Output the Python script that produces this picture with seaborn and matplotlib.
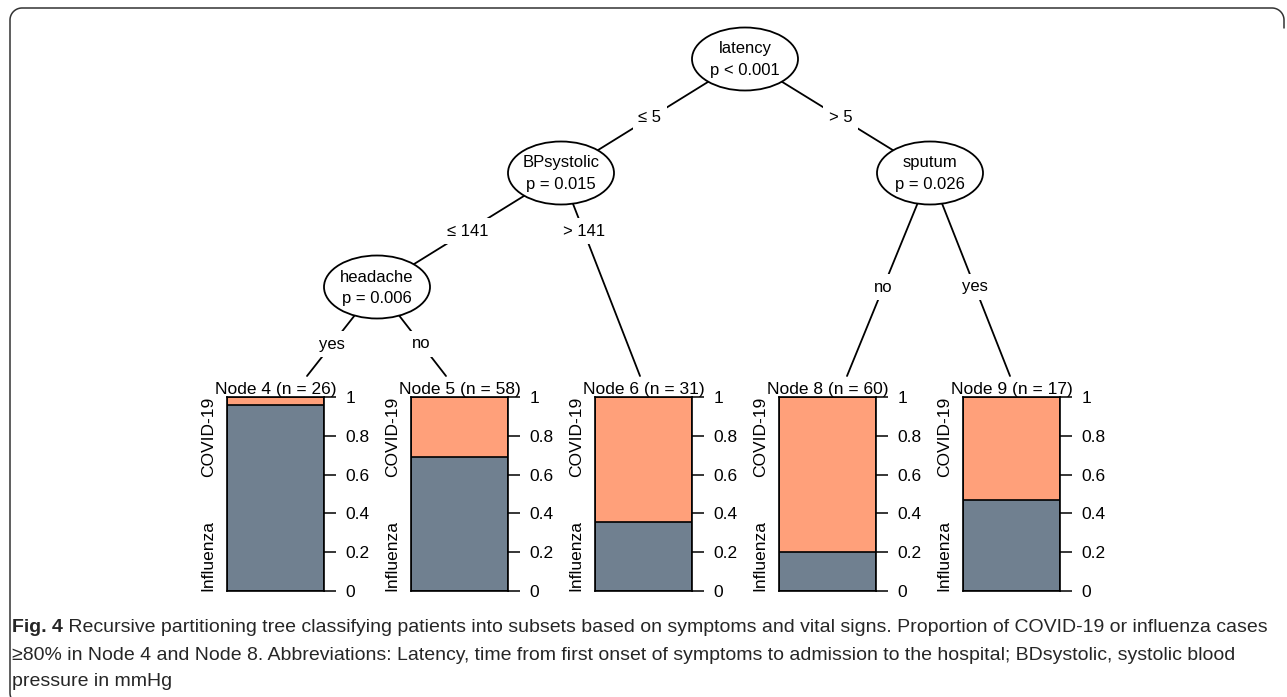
import numpy as np
import pandas as pd
import matplotlib
matplotlib.use("Agg")
import matplotlib.pyplot as plt
import seaborn as sns
from matplotlib import font_manager
from matplotlib.patches import Ellipse

# tree content
inner_nodes = ["latency", "BPsystolic", "headache", "sputum"]
inner_pvals = ["p < 0.001", "p = 0.015", "p = 0.006", "p = 0.026"]
edge_labels = ["\u2264 5", "> 5", "\u2264 141", "> 141", "yes", "no", "no", "yes"]

# terminal nodes
node_ids = [4, 5, 6, 8, 9]
node_n = [26, 58, 31, 60, 17]
influenza_share = [0.96, 0.69, 0.355, 0.20, 0.47]
class_names = ["Influenza", "COVID-19"]
tick_labels = ["0", "0.2", "0.4", "0.6", "0.8", "1"]

caption_bold = "Fig. 4"
caption_lines = [
    " Recursive partitioning tree classifying patients into subsets based on symptoms and vital signs. Proportion of COVID-19 or influenza cases",
    "\u226580% in Node 4 and Node 8. Abbreviations: Latency, time from first onset of symptoms to admission to the hospital; BDsystolic, systolic blood",
    "pressure in mmHg",
]

flu_col = "#708090"
covid_col = "#FFA07A"

sns.set_style("white")
plt.rcParams["font.family"] = ["Liberation Sans", "DejaVu Sans"]
for key in ["text.color", "axes.labelcolor", "xtick.color", "ytick.color"]:
    plt.rcParams[key] = "black"
installed = {f.name for f in font_manager.fontManager.ttflist}
narrow = "Liberation Sans Narrow" in installed
cap_font = "Liberation Sans Narrow" if narrow else "Liberation Sans"

W, H = 1287, 697
fig = plt.figure(figsize=(W / 100, H / 100), dpi=100)
bg = fig.add_axes([0, 0, 1, 1])
bg.set_xlim(0, W)
bg.set_ylim(H, 0)
bg.axis("off")


def px_axes(left, top, width, height):
    return fig.add_axes([left / W, 1 - (top + height) / H, width / W, height / H])


# layout (pixels)
inner_xy = {"latency": (745, 59), "BPsystolic": (561, 173),
            "headache": (377, 287), "sputum": (930, 173)}
term_anchor = {4: (307, 376), 5: (446, 376), 6: (640, 376), 8: (847, 376), 9: (1010, 376)}
edges = [("latency", "BPsystolic", 118), ("latency", "sputum", 118),
         ("BPsystolic", "headache", 231), ("BPsystolic", 6, 231),
         ("headache", 4, 344), ("headache", 5, 344),
         ("sputum", 8, 287), ("sputum", 9, 287)]

for (parent, child, ly), lab in zip(edges, edge_labels):
    x0, y0 = inner_xy[parent]
    x1, y1 = inner_xy[child] if isinstance(child, str) else term_anchor[child]
    bg.plot([x0, x1], [y0, y1], color="black", lw=1.3, zorder=1)
    lx = x0 + (x1 - x0) * (ly - y0) / (y1 - y0)
    bg.text(lx, ly, lab, ha="center", va="center", fontsize=12, zorder=3,
            bbox=dict(facecolor="white", edgecolor="none", pad=4))

for name, pv in zip(inner_nodes, inner_pvals):
    x, y = inner_xy[name]
    bg.add_patch(Ellipse((x, y), 106, 63, facecolor="white", edgecolor="black", lw=1.3, zorder=2))
    bg.text(x, y - 10, name, ha="center", va="center", fontsize=12, zorder=3)
    bg.text(x, y + 12, pv, ha="center", va="center", fontsize=12, zorder=3)

# bar panels
bar_left = [227, 411, 595, 779, 963]
for left, nid, n, flu in zip(bar_left, node_ids, node_n, influenza_share):
    ax = px_axes(left, 397, 97, 194)
    df = pd.DataFrame({"node": [nid], "Influenza": [flu], "COVID-19": [1 - flu]})
    df["total"] = df["Influenza"] + df["COVID-19"]
    sns.barplot(data=df, x="node", y="total", color=covid_col, saturation=1,
                width=1, edgecolor="black", linewidth=1.2, ax=ax)
    sns.barplot(data=df, x="node", y="Influenza", color=flu_col, saturation=1,
                width=1, edgecolor="black", linewidth=1.2, ax=ax)
    ax.set_xlim(-0.5, 0.5)
    ax.set_ylim(0, 1)
    ax.set_xticks([])
    ax.set_xlabel("")
    ax.set_ylabel("")
    ax.yaxis.tick_right()
    ax.set_yticks(np.linspace(0, 1, 6))
    ax.set_yticklabels(tick_labels)
    ax.tick_params(axis="y", right=True, left=False, length=8.5, width=1.1,
                   pad=7, labelsize=12.5, color="black")
    for sp in ax.spines.values():
        sp.set_color("black")
        sp.set_linewidth(1.2)
    ax.set_title(f"Node {nid} (n = {n})", fontsize=12.5, pad=2)
    ax.annotate(class_names[1], xy=(0, 1), xycoords="axes fraction", xytext=(-13.5, 0),
                textcoords="offset points", rotation=90, ha="center", va="top", fontsize=12.5)
    ax.annotate(class_names[0], xy=(0, 0), xycoords="axes fraction", xytext=(-13.5, 0),
                textcoords="offset points", rotation=90, ha="center", va="bottom", fontsize=12.5)

# caption
cap_y = [628, 655, 681]
cap_size = 14.5 if narrow else 14.0
cap_col = "#262626"
t = bg.text(12, cap_y[0], caption_bold, fontsize=cap_size, fontweight="bold",
            family=cap_font, color=cap_col, va="center", ha="left")
renderer = fig.canvas.get_renderer()
x_end = t.get_window_extent(renderer).x1
bg.text(x_end, cap_y[0], caption_lines[0], fontsize=cap_size, family=cap_font,
        color=cap_col, va="center", ha="left")
for y, line in zip(cap_y[1:], caption_lines[1:]):
    bg.text(12, y, line, fontsize=cap_size, family=cap_font, color=cap_col,
            va="center", ha="left")

# frame: open rounded border (top and left edges only)
r = 12
a1 = np.radians(np.linspace(180, 270, 20))
a2 = np.radians(np.linspace(270, 360, 20))
a3 = np.radians(np.linspace(180, 120, 10))
fx = np.concatenate([22 + r * np.cos(a3[::-1]), 22 + r * np.cos(a1), 1272 + r * np.cos(a2), [1284]])
fy = np.concatenate([693 + r * np.sin(a3[::-1]), 20 + r * np.sin(a1), 20 + r * np.sin(a2), [28]])
bg.plot(fx, fy, color="#333333", lw=1.1, solid_capstyle="round")

fig.savefig("out.png", dpi=100)
